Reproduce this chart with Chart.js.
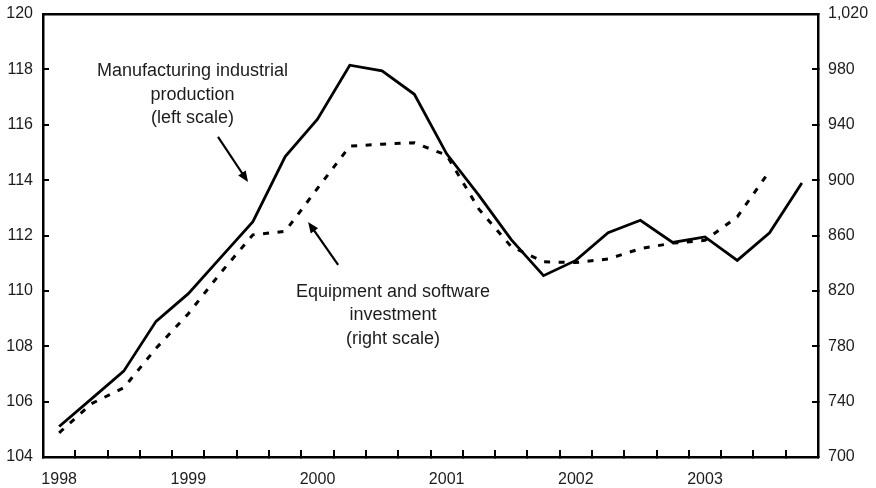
<!DOCTYPE html>
<html>
<head>
<meta charset="utf-8">
<script src="https://cdn.jsdelivr.net/npm/chart.js@4/dist/chart.umd.min.js"></script>
<style>
  html, body { margin: 0; padding: 0; background: #fff; }
  #wrap { width: 876px; height: 488px; }
</style>
</head>
<body>
<div id="wrap"><canvas id="chart" width="876" height="488"></canvas></div>
<script>
'use strict';

// ── Data ──────────────────────────────────────────────────────────────────────
const years    = ['1998', '1999', '2000', '2001', '2002', '2003'];
const quarters = years.flatMap(y => ['Q1', 'Q2', 'Q3', 'Q4'].map(q => `${ y } ${ q }`));

// manufacturing industrial production, index (left scale)
const manufacturing = [
  105.1, 106.1, 107.1, 108.9, 109.9, 111.2, 112.5, 114.85,
  116.2, 118.15, 117.95, 117.1, 114.95, 113.45, 111.85, 110.55,
  111.1, 112.1, 112.55, 111.75, 111.95, 111.1, 112.1, 113.9,
];

// equipment and software investment (right scale), last quarter not yet out
const equipment = [
  717.5, 738.5, 750, 778.5, 803.5, 833, 860.5, 863,
  894, 924.5, 926, 927, 918, 879, 852, 841,
  840.5, 843, 850.5, 854.5, 856.5, 873.5, 906.5, null,
];

const leftTicks  = { min: 104, max: 120,  step: 2 };
const rightTicks = { min: 700, max: 1020, step: 40 };

// ── Look ──────────────────────────────────────────────────────────────────────
const INK  = '#000';
const TEXT = '#1c1c1c';
const FONT = "'Liberation Sans', Arial, sans-serif";

// annotations, placed in data units (x = quarter index, y = left scale)
const notes = [
  { lines: ['Manufacturing industrial', 'production', '(left scale)'], x: 4.13, y: 117.94,
    arrow: { from: [4.92, 115.56], to: [5.85, 113.93] } },
  { lines: ['Equipment and software', 'investment', '(right scale)'], x: 10.34, y: 109.96,
    arrow: { from: [8.64, 110.94], to: [7.71, 112.49] } },
];

// ── Annotation plugin ────────────────────────────────────────────────────────
const notesPlugin = {
  id: 'notes',
  afterDatasetsDraw(chart) {
    const { ctx, scales: { x, y } } = chart;
    ctx.save();
    ctx.font = `18px ${ FONT }`;
    ctx.textAlign = 'center';
    ctx.textBaseline = 'middle';
    notes.forEach(n => {
      const px = x.getPixelForValue(n.x);
      const py = y.getPixelForValue(n.y);
      ctx.fillStyle = TEXT;
      n.lines.forEach((t, i) => ctx.fillText(t, px, py + i * 23.5));

      const x1 = x.getPixelForValue(n.arrow.from[0]), y1 = y.getPixelForValue(n.arrow.from[1]);
      const x2 = x.getPixelForValue(n.arrow.to[0]),   y2 = y.getPixelForValue(n.arrow.to[1]);
      const a  = Math.atan2(y2 - y1, x2 - x1);
      const head = 11, half = 4.5;
      ctx.strokeStyle = INK;
      ctx.fillStyle = INK;
      ctx.lineWidth = 2.2;
      ctx.beginPath();
      ctx.moveTo(x1, y1);
      ctx.lineTo(x2 - Math.cos(a) * head * 0.8, y2 - Math.sin(a) * head * 0.8);
      ctx.stroke();
      ctx.beginPath();
      ctx.moveTo(x2, y2);
      ctx.lineTo(x2 - Math.cos(a) * head - Math.sin(a) * half, y2 - Math.sin(a) * head + Math.cos(a) * half);
      ctx.lineTo(x2 - Math.cos(a) * head + Math.sin(a) * half, y2 - Math.sin(a) * head - Math.cos(a) * half);
      ctx.closePath();
      ctx.fill();
    });
    ctx.restore();
  }
};

// ── Chart ─────────────────────────────────────────────────────────────────────
const tickFont = { family: FONT, size: 16 };

// fixed axis widths; drop the label overhang padding so the plot top sits at 14px
function fixY(width) {
  return s => { s.width = width; s.paddingTop = 0; s.paddingBottom = 0; };
}

new Chart(document.getElementById('chart'), {
  type: 'line',
  data: {
    labels: quarters,
    datasets: [
      {
        data: manufacturing,
        yAxisID: 'y',
        borderColor: INK,
        borderWidth: 2.8,
        pointRadius: 0,
        tension: 0,
      },
      {
        data: equipment,
        yAxisID: 'y1',
        borderColor: INK,
        borderWidth: 3,
        borderDash: [6, 8.5],
        pointRadius: 0,
        tension: 0,
      },
    ]
  },
  options: {
    responsive: false,
    animation: false,
    layout: { padding: 0 },
    plugins: { legend: { display: false }, tooltip: { enabled: false } },
    scales: {
      x: {
        offset: true,
        grid:   { offset: true, drawOnChartArea: false, tickLength: -7, color: INK, lineWidth: 2 },
        border: { color: INK, width: 2.5 },
        ticks: {
          autoSkip: false, maxRotation: 0, padding: 20, color: TEXT, font: tickFont,
          callback: (v, i) => i % 4 === 0 ? quarters[i].slice(0, 4) : '',
        },
        afterFit: s => { s.height = 31; },
      },
      top: {
        type: 'category',
        position: 'top',
        labels: quarters,
        offset: true,
        grid:   { drawOnChartArea: false, drawTicks: false },
        border: { color: INK, width: 2.5 },
        ticks:  { display: false },
        afterFit: s => { s.height = 14; },
      },
      y: {
        position: 'left',
        min: leftTicks.min, max: leftTicks.max,
        grid:   { drawOnChartArea: false, tickLength: -6, color: INK, lineWidth: 2 },
        border: { color: INK, width: 2.5 },
        ticks:  { stepSize: leftTicks.step, padding: 16, color: TEXT, font: tickFont },
        afterFit: fixY(43),
      },
      y1: {
        position: 'right',
        min: rightTicks.min, max: rightTicks.max,
        grid:   { drawOnChartArea: false, tickLength: -6, color: INK, lineWidth: 2 },
        border: { color: INK, width: 2.5 },
        ticks:  {
          stepSize: rightTicks.step, padding: 16, color: TEXT, font: tickFont,
          callback: v => v.toLocaleString('en-US'),
        },
        afterFit: fixY(58),
      },
    }
  },
  plugins: [notesPlugin],
});
</script>
</body>
</html>
